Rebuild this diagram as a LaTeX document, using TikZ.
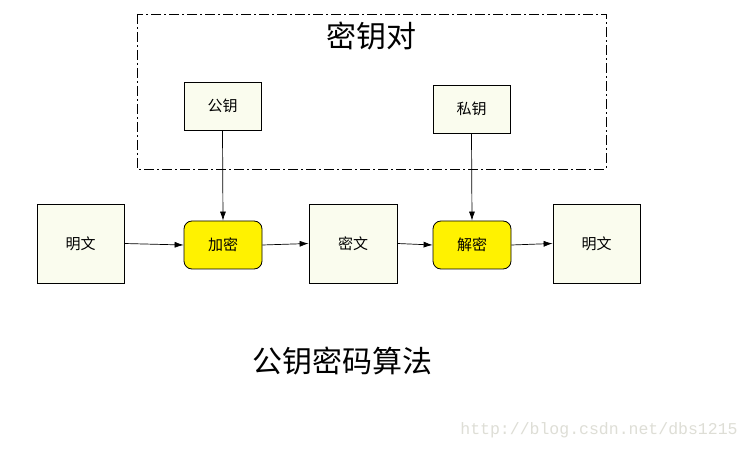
\documentclass[tikz,border=0pt]{standalone}
\usepackage{fontspec}
\newfontfamily\cjk{Noto Sans CJK SC}
\newfontfamily\wmfont{Liberation Mono}
\usetikzlibrary{arrows.meta}
\definecolor{ivory}{HTML}{FAFCEE}
\definecolor{wm}{HTML}{DEDED6}
\begin{document}
\begin{tikzpicture}[x=1pt,y=-1pt,
  plain/.style={draw=black,fill=ivory,line width=0.8pt,inner sep=0pt,font=\cjk\fontsize{15}{17}\selectfont},
  proc/.style={draw=black,fill=yellow,rounded corners=8pt,line width=0.8pt,inner sep=0pt,minimum width=78pt,minimum height=48pt,font=\cjk\fontsize{15}{17}\selectfont},
  conn/.style={-{Latex[length=9pt,width=6pt]},line width=0.7pt},
  big/.style={font=\cjk\fontsize{30}{33}\selectfont,inner sep=0pt}]
\useasboundingbox (0,0) rectangle (750,449);
\fill[white] (0,0) rectangle (750,449);
\draw[line width=0.8pt,dash pattern=on 10pt off 3pt on 2pt off 3pt] (137,14) rectangle (606,169);
\node[big] (title) at (371,36) {密钥对};
\node[plain,minimum width=77pt,minimum height=48pt] (pub) at (222.5,106) {公钥};
\node[plain,minimum width=77pt,minimum height=48pt] (priv) at (471.5,109) {私钥};
\node[plain,minimum width=87pt,minimum height=79pt] (p1) at (80.5,243.5) {明文};
\node[proc] (enc) at (223,245) {加密};
\node[plain,minimum width=88pt,minimum height=79pt] (c) at (353,243.5) {密文};
\node[proc] (dec) at (472,245) {解密};
\node[plain,minimum width=87pt,minimum height=79pt] (p2) at (596.5,243.5) {明文};
\draw[conn] (p1.east) -- (enc.west);
\draw[conn] (enc.east) -- (c.west);
\draw[conn] (c.east) -- (dec.west);
\draw[conn] (dec.east) -- (p2.west);
\draw[conn] (pub.south) -- (enc.north);
\draw[conn] (priv.south) -- (dec.north);
\node[big] (algo) at (342,361) {公钥密码算法};
\node[font=\wmfont\fontsize{16.5}{18}\selectfont,text=wm,inner sep=0pt] (wmk) at (599,430) {http://blog.csdn.net/dbs1215};
\end{tikzpicture}
\end{document}
